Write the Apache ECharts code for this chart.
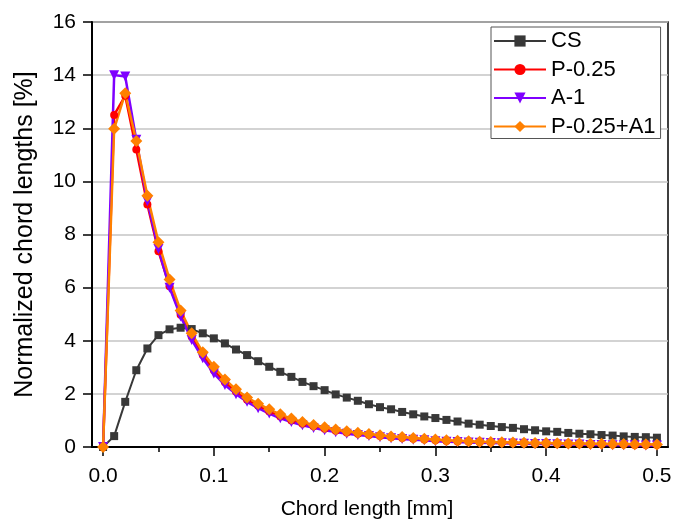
<!DOCTYPE html>
<html><head><meta charset="utf-8">
<script src="https://cdn.jsdelivr.net/npm/echarts@6/dist/echarts.min.js"></script>
<style>html,body{margin:0;padding:0;background:#fff}#c{width:675px;height:521px}</style>
</head><body><div id="c"></div>
<script>
const xValues = [0,0.01,0.02,0.03,0.04,0.05,0.06,0.07,0.08,0.09,0.10,0.11,0.12,0.13,0.14,0.15,0.16,0.17,0.18,0.19,0.20,0.21,0.22,0.23,0.24,0.25,0.26,0.27,0.28,0.29,0.30,0.31,0.32,0.33,0.34,0.35,0.36,0.37,0.38,0.39,0.40,0.41,0.42,0.43,0.44,0.45,0.46,0.47,0.48,0.49,0.50];
const csValues = [0,0.41,1.70,2.89,3.71,4.21,4.43,4.49,4.44,4.28,4.09,3.90,3.67,3.46,3.23,3.02,2.83,2.64,2.45,2.29,2.14,1.98,1.86,1.74,1.61,1.50,1.42,1.32,1.23,1.15,1.09,1.02,0.96,0.88,0.84,0.79,0.75,0.72,0.67,0.63,0.59,0.57,0.53,0.50,0.48,0.45,0.43,0.40,0.38,0.37,0.35];
const p025Values = [0,12.5,13.22,11.2,9.13,7.37,6.05,4.98,4.15,3.46,2.89,2.44,2.08,1.78,1.55,1.34,1.15,1.00,0.88,0.78,0.69,0.61,0.55,0.50,0.45,0.41,0.37,0.34,0.31,0.28,0.25,0.23,0.21,0.20,0.18,0.17,0.16,0.15,0.14,0.13,0.13,0.12,0.11,0.11,0.10,0.10,0.09,0.09,0.08,0.08,0.08];
const a1Values = [0,14.0,13.95,11.57,9.25,7.45,6.0,4.91,4.03,3.34,2.77,2.33,1.99,1.70,1.46,1.26,1.08,0.94,0.82,0.72,0.63,0.56,0.50,0.45,0.41,0.37,0.33,0.30,0.27,0.25,0.22,0.20,0.19,0.17,0.16,0.15,0.14,0.13,0.12,0.11,0.11,0.10,0.09,0.09,0.08,0.08,0.07,0.07,0.07,0.06,0.06];
const p025a1Values = [0,11.98,13.32,11.52,9.46,7.71,6.31,5.14,4.28,3.57,3.02,2.54,2.17,1.86,1.63,1.42,1.23,1.07,0.94,0.83,0.74,0.66,0.59,0.54,0.49,0.44,0.40,0.38,0.34,0.31,0.28,0.25,0.24,0.22,0.20,0.19,0.18,0.17,0.16,0.15,0.15,0.14,0.13,0.13,0.12,0.12,0.11,0.11,0.10,0.10,0.09];
const xTicks = [0,0.1,0.2,0.3,0.4,0.5];
const xMinorTicks = [0.05,0.15,0.25,0.35,0.45];
const seriesNames = ['CS','P-0.25','A-1','P-0.25+A1'];

const font = 'Liberation Sans, Arial, sans-serif';
const pair = arr => xValues.map((x,i)=>[x,arr[i]]);
const chart = echarts.init(document.getElementById('c'), null, {renderer:'canvas'});
const mk = (name, data, color, symbol, size, lw, rot) => ({
  name, type:'line', data:pair(data), symbol, symbolSize:size, symbolRotate:rot||0, xAxisIndex:0,
  lineStyle:{color, width:lw}, itemStyle:{color}, animation:false,
  emphasis:{disabled:true}
});
chart.setOption({
  backgroundColor:'#fff',
  animation:false,
  grid:{left:92,right:7,top:22,bottom:74,show:true,borderColor:'#000',borderWidth:1.5,containLabel:false,outerBoundsMode:'none'},
  legend:{
    orient:'vertical', left:491, top:27,
    backgroundColor:'#fff', borderColor:'#555', borderWidth:1,
    padding:[3,5,1,2], itemGap:6.5, itemWidth:52, itemHeight:14,
    textStyle:{fontFamily:font, fontSize:22, color:'#000'},
    data:seriesNames
  },
  xAxis:[{
    type:'value', min:-0.01, max:0.51, name:'Chord length [mm]',
    nameLocation:'middle', nameGap:52, nameTextStyle:{fontFamily:font,fontSize:21,color:'#000',padding:[0,26,0,0]},
    axisLine:{show:true,onZero:false,lineStyle:{color:'#000',width:2}},
    axisTick:{show:true,inside:false,length:9,customValues:xTicks,lineStyle:{color:'#000',width:1.5}},
    axisLabel:{show:true,customValues:xTicks,formatter:v=>v.toFixed(1),fontFamily:font,fontSize:21,color:'#000',margin:19},
    splitLine:{show:false}
  },{
    type:'value', min:-0.01, max:0.51, position:'bottom',
    axisLine:{show:false,onZero:false},
    axisTick:{show:true,inside:false,length:5,customValues:xMinorTicks,lineStyle:{color:'#000',width:1.5}},
    axisLabel:{show:false}, splitLine:{show:false}
  }],
  yAxis:{
    type:'value', min:0, max:16, interval:2, name:'Normalized chord lengths [%]',
    nameLocation:'middle', nameGap:54, nameTextStyle:{fontFamily:font,fontSize:25,color:'#000'},
    axisLine:{show:true,onZero:false,lineStyle:{color:'#000',width:2}},
    axisTick:{show:true,inside:false,length:9,lineStyle:{color:'#000',width:1.5}},
    axisLabel:{fontFamily:font,fontSize:21,color:'#000',margin:16},
    splitLine:{show:true,lineStyle:{color:'#c4c4c4',width:1.5}}
  },
  series:[
    mk(seriesNames[0], csValues, '#383838', 'rect', 8, 2),
    mk(seriesNames[1], p025Values, '#ff0000', 'circle', 8, 2.5),
    mk(seriesNames[2], a1Values, '#7f00ff', 'triangle', 10, 2.5, 180),
    mk(seriesNames[3], p025a1Values, '#ff8000', 'diamond', 12, 2.5)
  ]
});
</script></body></html>
